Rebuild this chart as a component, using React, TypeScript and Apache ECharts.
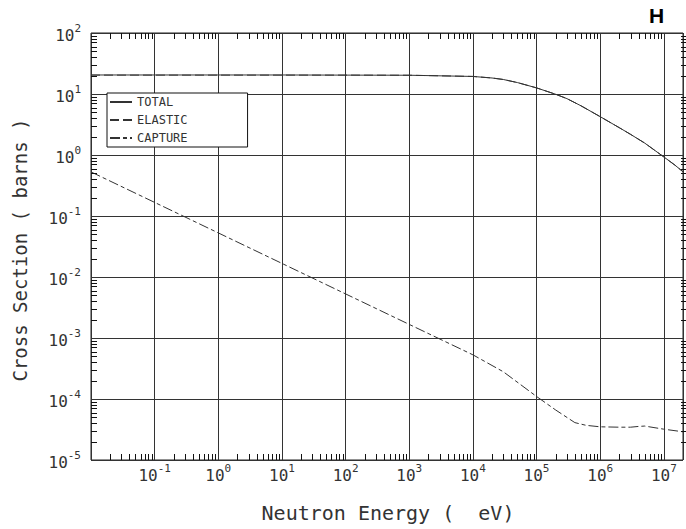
import React, { useEffect, useRef } from 'react';
import * as echarts from 'echarts';

// ---- data ----
const ENERGY_TOTAL = [0.01, 0.1, 1, 10, 100, 1e3, 1e4, 2e4, 3e4, 5e4, 1e5, 2e5, 3e5, 5e5, 1e6, 2e6, 3e6, 5e6, 1e7, 1.5e7, 2e7];
const TOTAL = [20.5, 20.5, 20.5, 20.5, 20.4, 20.3, 19.4, 18.3, 17.3, 15.4, 12.6, 9.9, 8.4, 6.4, 4.25, 2.8, 2.18, 1.57, 0.93, 0.68, 0.53];
const ELASTIC = [20.4, 20.4, 20.4, 20.4, 20.4, 20.3, 19.4, 18.3, 17.3, 15.4, 12.6, 9.9, 8.4, 6.4, 4.25, 2.8, 2.18, 1.57, 0.93, 0.68, 0.53];
const ENERGY_CAPTURE = [0.01, 0.1, 1, 10, 100, 1e3, 1e4, 3e4, 1e5, 2e5, 4e5, 6e5, 1e6, 2e6, 3e6, 4e6, 5e6, 7e6, 1e7, 2e7];
const CAPTURE = [0.528, 0.167, 0.0528, 0.0167, 0.00528, 0.00167, 5.3e-4, 2.8e-4, 1.1e-4, 6.6e-5, 4.1e-5, 3.7e-5, 3.5e-5, 3.45e-5, 3.45e-5, 3.55e-5, 3.6e-5, 3.4e-5, 3.2e-5, 2.9e-5];

const SERIES_NAMES = ['TOTAL', 'ELASTIC', 'CAPTURE'];
const X_MIN = 0.01;
const X_MAX = 2e7;
const Y_MIN = 1e-5;
const Y_MAX = 100;
const X_DECADES = [-2, -1, 0, 1, 2, 3, 4, 5, 6, 7];
const Y_DECADES = [-5, -4, -3, -2, -1, 0, 1];
const MINOR_STEPS = [2, 3, 4, 5, 6, 7, 8, 9];
const X_LABEL_EXPONENTS = [-1, 0, 1, 2, 3, 4, 5, 6, 7];
const Y_LABEL_EXPONENTS = [-5, -4, -3, -2, -1, 0, 1, 2];

const X_TITLE = 'Neutron Energy (  eV)';
const Y_TITLE = 'Cross Section ( barns )';
const CORNER_TITLE = 'H';

const MONO = '"DejaVu Sans Mono"';
const INK = '#333';
const TICK_LEN = 6;

const GRID_LEFT = 91;
const GRID_TOP = 33;
const GRID_WIDTH = 596;
const GRID_HEIGHT = 427;

function minorValues(decades: number[], max: number): number[] {
  const out: number[] = [];
  decades.forEach((d) => {
    MINOR_STEPS.forEach((m) => {
      const v = m * Math.pow(10, d);
      if (v < max * 0.999) out.push(v);
    });
  });
  return out;
}

function exponentOf(v: number): number | null {
  const l = Math.log10(v);
  const e = Math.round(l);
  return Math.abs(l - e) < 1e-6 ? e : null;
}

function powFormatter(allowed: number[]) {
  return (v: number) => {
    const e = exponentOf(v);
    if (e === null || allowed.indexOf(e) < 0) return '';
    return `{b|10}{s|${e}}`;
  };
}

const rich = {
  b: { fontFamily: MONO, fontSize: 16, lineHeight: 20, verticalAlign: 'bottom', color: INK },
  s: { fontFamily: MONO, fontSize: 11, lineHeight: 12, verticalAlign: 'top', color: INK },
};

type Side = 'bottom' | 'top' | 'left' | 'right';

// minor log ticks: each tick is placed with api.coord (the axes' own scales);
// the frame edge is taken from the grid rectangle
function tickSeries(side: Side, rows: number[][]) {
  return {
    type: 'custom',
    coordinateSystem: 'cartesian2d',
    silent: true,
    clip: false,
    z: 5,
    data: rows,
    renderItem: (params: any, api: any) => {
      const pt = api.coord([api.value(0), api.value(1)]);
      const x0 = Math.round(pt[0]) + 0.5;
      const y0 = Math.round(pt[1]) + 0.5;
      const left = GRID_LEFT;
      const top = GRID_TOP;
      const bottom = GRID_TOP + GRID_HEIGHT;
      const right = GRID_LEFT + GRID_WIDTH;
      let x1: number, y1: number, x2: number, y2: number;
      if (side === 'bottom') { x1 = x0; x2 = x0; y1 = bottom; y2 = bottom - TICK_LEN; }
      else if (side === 'top') { x1 = x0; x2 = x0; y1 = top; y2 = top + TICK_LEN; }
      else if (side === 'left') { y1 = y0; y2 = y0; x1 = left; x2 = left + TICK_LEN; }
      else { y1 = y0; y2 = y0; x1 = right; x2 = right - TICK_LEN; }
      return {
        type: 'polyline',
        shape: { points: [[x1, y1], [x2, y2]] },
        style: { stroke: '#111', lineWidth: 1, fill: 'none' },
      };
    },
  };
}

export default function App() {
  const ref = useRef<HTMLDivElement>(null);
  useEffect(() => {
    if (!ref.current) return;
    const chart = echarts.init(ref.current, undefined, { renderer: 'svg' });
    const xTickRows = minorValues(X_DECADES, X_MAX).map((v) => [v, 1]);
    const yTickRows = minorValues(Y_DECADES, Y_MAX).map((v) => [1, v]);
    chart.setOption({
      animation: false,
      backgroundColor: '#fff',
      title: {
        text: CORNER_TITLE,
        left: 649,
        top: 5,
        padding: 0,
        textStyle: { fontFamily: '"Liberation Sans"', fontWeight: 'bold', fontSize: 21, color: '#000' },
      },
      grid: {
        left: GRID_LEFT,
        top: GRID_TOP,
        width: GRID_WIDTH,
        height: GRID_HEIGHT,
        containLabel: false,
        show: true,
        borderColor: '#222',
        borderWidth: 1,
        backgroundColor: 'transparent',
      },
      legend: {
        orient: 'vertical',
        left: 107,
        top: 93,
        padding: [2, 60, 2, 2],
        itemGap: 4,
        itemWidth: 22,
        itemHeight: 12,
        backgroundColor: '#fff',
        borderColor: '#111',
        borderWidth: 1,
        data: SERIES_NAMES,
        itemStyle: { color: 'rgba(0,0,0,0)', borderWidth: 0, opacity: 0 },
        textStyle: { fontFamily: MONO, fontSize: 12, color: INK, lineHeight: 14 },
        z: 10,
      },
      xAxis: {
        type: 'log',
        position: 'bottom',
        min: X_MIN,
        max: X_MAX,
        axisLine: { show: false },
        axisTick: { show: false },
        axisLabel: { show: true, margin: 3, formatter: powFormatter(X_LABEL_EXPONENTS), rich },
        splitLine: { show: true, lineStyle: { color: '#333', width: 1 } },
      },
      yAxis: {
        type: 'log',
        position: 'left',
        min: Y_MIN,
        max: Y_MAX,
        axisLine: { show: false },
        axisTick: { show: false },
        axisLabel: { show: true, margin: 10, formatter: powFormatter(Y_LABEL_EXPONENTS), rich },
        splitLine: { show: true, lineStyle: { color: '#333', width: 1 } },
      },
      graphic: [
        {
          type: 'text',
          x: 388,
          y: 513,
          style: { text: X_TITLE, font: `20px ${MONO}`, fill: INK, align: 'center', verticalAlign: 'middle' },
        },
        {
          type: 'text',
          x: 20,
          y: 250,
          rotation: Math.PI / 2,
          style: { text: Y_TITLE, font: `19px ${MONO}`, fill: INK, align: 'center', verticalAlign: 'middle' },
        },
      ],
      series: [
        {
          name: SERIES_NAMES[0],
          type: 'line',
          symbol: 'none',
          data: ENERGY_TOTAL.map((e, i) => [e, TOTAL[i]]),
          lineStyle: { color: '#333', width: 1, type: 'solid' },
          itemStyle: { color: '#333' },
        },
        {
          name: SERIES_NAMES[1],
          type: 'line',
          symbol: 'none',
          data: ENERGY_TOTAL.map((e, i) => [e, ELASTIC[i]]),
          lineStyle: { color: '#333', width: 1, type: [9, 4] },
          itemStyle: { color: '#333' },
        },
        {
          name: SERIES_NAMES[2],
          type: 'line',
          symbol: 'none',
          data: ENERGY_CAPTURE.map((e, i) => [e, CAPTURE[i]]),
          lineStyle: { color: '#333', width: 1, type: [10, 3, 4, 3] },
          itemStyle: { color: '#333' },
        },
        tickSeries('bottom', xTickRows),
        tickSeries('top', xTickRows),
        tickSeries('left', yTickRows),
        tickSeries('right', yTickRows),
      ],
    });
    return () => chart.dispose();
  }, []);
  return <div ref={ref} style={{ position: 'fixed', left: 0, top: 0, width: 686, height: 529 }} />;
}
